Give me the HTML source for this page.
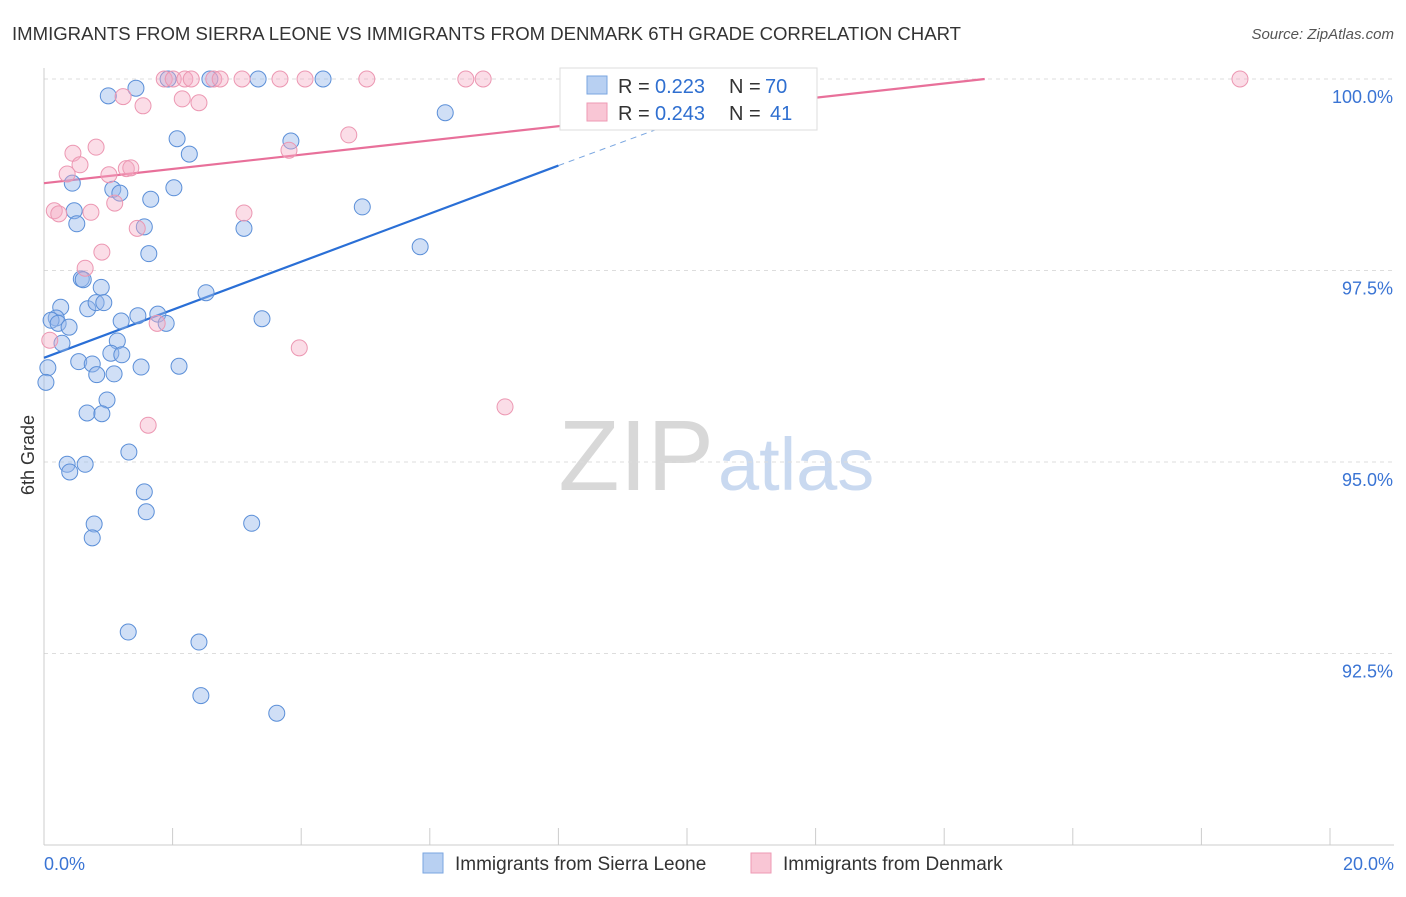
<!DOCTYPE html>
<html><head><meta charset="utf-8">
<style>
body{margin:0;background:#fff;font-family:"Liberation Sans",sans-serif;}
svg text{font-family:"Liberation Sans",sans-serif;}
</style></head>
<body>
<svg id="chart" width="1406" height="892">
<text x="12" y="40" font-size="18" fill="#333" textLength="949" lengthAdjust="spacingAndGlyphs">IMMIGRANTS FROM SIERRA LEONE VS IMMIGRANTS FROM DENMARK 6TH GRADE CORRELATION CHART</text>
<text x="1394" y="39" font-size="15" fill="#555" text-anchor="end" font-style="italic">Source: ZipAtlas.com</text>
<text x="714" y="490" font-size="100" fill="#d8d8d8" text-anchor="end" font-family="Liberation Serif">ZIP</text>
<text x="718" y="490" font-size="74" fill="#c9d9f0">atlas</text>
<text x="34" y="455" font-size="18" fill="#333" text-anchor="middle" transform="rotate(-90 34 455)">6th Grade</text>
<g id="grid"></g><g id="axes"></g><g id="trend"></g><g id="pts"></g>
<g>
<rect x="560" y="68" width="257" height="62" fill="#fff" stroke="#ddd"/>
<rect x="587" y="76" width="20" height="18" fill="#b8d0f2" stroke="#7aa6e0"/>
<text x="618" y="93" font-size="20" fill="#333">R =</text>
<text x="655" y="93" font-size="20" fill="#2f6fd0">0.223</text>
<text x="729" y="93" font-size="20" fill="#333">N =</text>
<text x="765" y="93" font-size="20" fill="#2f6fd0">70</text>
<rect x="587" y="103" width="20" height="18" fill="#f9c6d5" stroke="#ee9ab4"/>
<text x="618" y="120" font-size="20" fill="#333">R =</text>
<text x="655" y="120" font-size="20" fill="#2f6fd0">0.243</text>
<text x="729" y="120" font-size="20" fill="#333">N =</text>
<text x="770" y="120" font-size="20" fill="#2f6fd0">41</text>
</g>
<g>
<rect x="423" y="853" width="20" height="20" fill="#b8d0f2" stroke="#7aa6e0"/>
<text x="455" y="870" font-size="19" fill="#333">Immigrants from Sierra Leone</text>
<rect x="751" y="853" width="20" height="20" fill="#f9c6d5" stroke="#ee9ab4"/>
<text x="783" y="870" font-size="19" fill="#333">Immigrants from Denmark</text>
</g>
</svg>
<script>
const xTicks=[0,2,4,6,8,10,12,14,16,18,20];
const yTicks=[100,97.5,95,92.5];
const yTickLabels=["100.0%","97.5%","95.0%","92.5%"];
const blueX=[1.00,1.43,1.93,2.58,3.33,4.34,6.24,2.07,2.26,3.84,0.44,1.07,1.18,1.66,2.02,4.95,0.47,0.51,1.56,3.11,1.63,5.85,0.58,0.61,0.89,2.52,0.26,0.68,0.81,0.93,0.19,0.11,0.22,0.39,1.20,1.46,1.77,1.90,3.39,0.28,1.14,1.04,1.21,0.54,0.75,0.06,0.82,1.09,1.51,2.10,0.03,0.98,0.67,0.90,1.32,0.36,0.64,0.40,1.56,1.59,0.78,0.75,3.23,1.31,2.41,2.44,3.62];
const blueY=[99.78,99.88,100,100,100,100,99.56,99.22,99.02,99.19,98.64,98.56,98.51,98.43,98.58,98.33,98.28,98.11,98.07,98.05,97.72,97.81,97.39,97.38,97.28,97.21,97.02,97.00,97.08,97.08,96.88,96.85,96.81,96.76,96.84,96.91,96.93,96.81,96.87,96.55,96.58,96.42,96.40,96.31,96.28,96.23,96.14,96.15,96.24,96.25,96.04,95.81,95.64,95.63,95.13,94.97,94.97,94.87,94.61,94.35,94.19,94.01,94.20,92.78,92.65,91.95,91.72];
const pinkX=[1.87,2.01,2.19,2.29,2.64,2.74,3.08,3.67,4.06,5.02,6.56,6.83,18.60,1.23,1.54,2.15,2.41,4.74,3.81,0.81,0.45,0.56,0.36,1.01,1.28,1.35,1.10,0.16,0.23,0.73,3.11,1.45,0.90,0.64,1.76,3.97,7.17,1.62,0.09];
const pinkY=[100,100,100,100,100,100,100,100,100,100,100,100,100,99.77,99.65,99.74,99.69,99.27,99.07,99.11,99.03,98.88,98.76,98.75,98.83,98.84,98.38,98.28,98.24,98.26,98.25,98.05,97.74,97.53,96.81,96.49,95.72,95.48,96.59];
const blueTrend=[[0,96.36],[8,98.87]];
const blueTrendDash=[[8,98.87],[10.2,99.55]];
const pinkTrend=[[0,98.64],[14.63,100]];
const NS="http://www.w3.org/2000/svg";
const sx=v=>44+v*64.3, sy=v=>79+(100-v)*76.6;
function mk(tag,attrs,parent){const e=document.createElementNS(NS,tag);for(const k in attrs)e.setAttribute(k,attrs[k]);document.getElementById(parent).appendChild(e);return e;}
yTicks.forEach((t,i)=>{
 const l=mk('line',{x1:44,x2:1394,y1:sy(t),y2:sy(t),stroke:'#ddd','stroke-dasharray':'4,4'},'grid');
 
 
 const tx=mk('text',{x:1393,y:sy(t)+24,'font-size':18,fill:'#3a74d4','text-anchor':'end'},'grid');
 tx.textContent=yTickLabels[i];
 
 
});
const ax=mk('line',{x1:44,x2:44,y1:68,y2:845,stroke:'#ccc'},'axes');


const bx=mk('line',{x1:44,x2:1394,y1:845,y2:845,stroke:'#ccc'},'axes');


xTicks.forEach(t=>{
 const l=mk('line',{x1:sx(t),x2:sx(t),y1:828,y2:845,stroke:'#ccc'},'axes');
 
 
});
[[0,'0.0%','start',44],[20,'20.0%','end',1394]].forEach(a=>{
 const tx=mk('text',{x:a[3],y:870,'font-size':18,fill:'#3a74d4','text-anchor':a[2]},'axes');
 tx.textContent=a[1];
 
 
});
function ln(p,c,dash,name){const l=mk('line',{x1:sx(p[0][0]),y1:sy(p[0][1]),x2:sx(p[1][0]),y2:sy(p[1][1]),stroke:c,'stroke-width':dash?1:2.2},'trend');if(dash)l.setAttribute('stroke-dasharray','6,5');
 
 }
ln(pinkTrend,'#e8709a',false,'denmark-trend-line');
ln(blueTrend,'#2a6fd6',false,'sierra-leone-trend-line');
ln(blueTrendDash,'#7aa6e0',true,'sierra-leone-trend-extension');
blueX.forEach((x,i)=>{const c=mk('circle',{cx:sx(x),cy:sy(blueY[i]),r:8,fill:'rgba(150,185,235,0.45)',stroke:'#5b8fd8','stroke-width':1},'pts');
 
 });
pinkX.forEach((x,i)=>{const c=mk('circle',{cx:sx(x),cy:sy(pinkY[i]),r:8,fill:'rgba(245,170,195,0.4)',stroke:'#ec97b2','stroke-width':1},'pts');
 
 });
</script>
</body></html>
